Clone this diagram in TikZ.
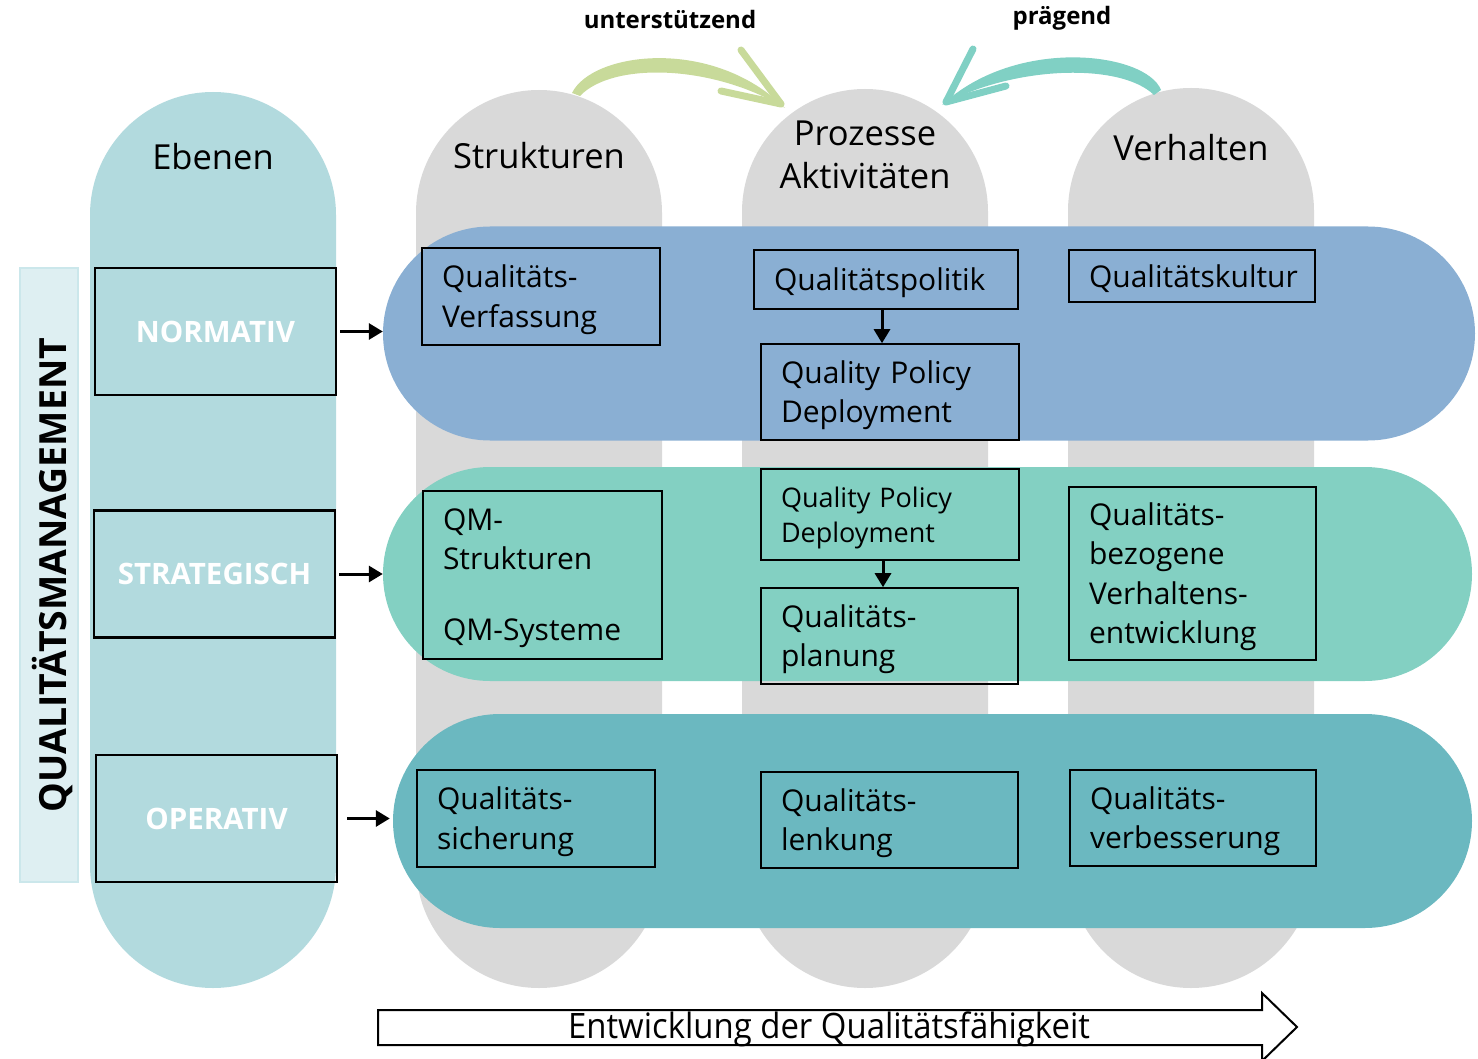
\documentclass[tikz,border=0pt]{standalone}
\usepackage{fontspec}
\setmainfont{Open Sans}
\usepackage{xcolor}
\usepackage{tikz}
\usetikzlibrary{arrows.meta}
\definecolor{ebenecol}{HTML}{B2DADE}
\definecolor{colgray}{HTML}{D9D9D9}
\definecolor{normband}{HTML}{8AAFD3}
\definecolor{stratband}{HTML}{83D0C2}
\definecolor{opband}{HTML}{6BB8C0}
\definecolor{barfill}{HTML}{DEEFF2}
\definecolor{barline}{HTML}{CBE7EB}
\definecolor{unterst}{HTML}{C8DA9A}
\definecolor{praeg}{HTML}{80D0C4}

\begin{document}
\begin{tikzpicture}[x=1pt,y=-1pt]
    \useasboundingbox (0,0) rectangle (1478,1059);

    \tikzstyle{col}=[rounded corners=123pt,minimum width=246pt,inner sep=0pt]
    \tikzstyle{band}=[rounded corners=107pt,minimum height=214pt,inner sep=0pt]
    \tikzstyle{head}=[font=\fontsize{34.5}{43}\selectfont,align=center]
    \tikzstyle{cell}=[draw=black,line width=1.6pt,align=left,inner xsep=20pt,inner ysep=0pt,
        execute at end node={\endgraf\vspace*{-6pt}},font=\fontsize{30}{39.5}\selectfont]
    \tikzstyle{lvl}=[draw=black,line width=2.5pt,minimum width=241pt,minimum height=127pt,text=white,font=\bfseries\fontsize{29.5}{34}\selectfont]
    \tikzstyle{kind}=[font=\bfseries\fontsize{24}{28}\selectfont]

    % columns
    \node[col,fill=ebenecol,minimum height=896pt] (ebenen) at (213,540) {};
    \node[col,fill=colgray,minimum height=898pt] (struk) at (539,539) {};
    \node[col,fill=colgray,minimum height=899pt] (proz) at (865,538.5) {};
    \node[col,fill=colgray,minimum height=900pt] (verh) at (1191,538) {};

    \node[head] (ebenenh) at (213,157) {Ebenen};
    \node[head] (strukh) at (539,156) {Strukturen};
    \node[head] (prozh) at (865,155) {Prozesse\\Aktivitäten};
    \node[head] (verhh) at (1191,148) {Verhalten};

    % bands
    \node[band,fill=normband,minimum width=1092pt] (nband) at (929,333.5) {};
    \node[band,fill=stratband,minimum width=1089pt] (sband) at (927.5,574) {};
    \node[band,fill=opband,minimum width=1079pt] (oband) at (932.5,821) {};

    % normativ
    \node[cell,text width=198pt,minimum height=97pt] (verf) at (541,296.5) {Qualitäts-\\Verfassung};
    \node[cell,text width=224pt,minimum height=59pt] (politik) at (886,279.5) {Qualitätspolitik};
    \node[cell,text width=218pt,minimum height=96pt] (qpdn) at (890,392) {Quality Policy\\Deployment};
    \node[cell,text width=206pt,minimum height=52pt] (kultur) at (1192,276) {Qualitätskultur};

    % strategisch
    \node[cell,text width=199pt,minimum height=168pt] (qmsys) at (542.5,575) {QM-\\Strukturen\\[31pt]QM-Systeme};
    \node[cell,text width=218pt,minimum height=91pt,font=\fontsize{27}{35}\selectfont] (qpds) at (890,514.5) {Quality Policy\\Deployment};
    \node[cell,text width=217pt,minimum height=96pt] (planung) at (889.5,636) {Qualitäts-\\planung};
    \node[cell,text width=207pt,minimum height=173pt] (verhent) at (1192.5,573.5) {Qualitäts-\\bezogene\\Verhaltens-\\entwicklung};

    % operativ
    \node[cell,text width=198pt,minimum height=97pt] (sicherung) at (536,818.5) {Qualitäts-\\sicherung};
    \node[cell,text width=217pt,minimum height=96pt] (lenkung) at (889.5,820) {Qualitäts-\\lenkung};
    \node[cell,text width=206pt,minimum height=96pt] (verbess) at (1193,818) {Qualitäts-\\verbesserung};

    % levels
    \node[draw=barline,fill=barfill,line width=2pt,minimum width=58pt,minimum height=614pt,inner sep=0pt] (qmbar) at (49,575) {};
    \node[rotate=90,font=\bfseries\fontsize{37.4}{40}\selectfont] (qmtext) at (53,575) {QUALITÄTSMANAGEMENT};

    \node[lvl] (normativ) at (215.5,331.5) {NORMATIV};
    \node[lvl] (strategisch) at (214.5,574) {STRATEGISCH};
    \node[lvl] (operativ) at (216.5,818.5) {OPERATIV};

    \tikzstyle{fwd}=[draw=black,line width=3pt,-{Triangle[length=14pt,width=16pt]}]

    \draw[fwd] ([xshift=3pt]normativ.east) -- (normativ.east -| nband.west);
    \draw[fwd] ([xshift=3pt]strategisch.east) -- (strategisch.east -| sband.west);
    \draw[fwd] ([xshift=9pt]operativ.east) -- ([xshift=-3pt]operativ.east -| oband.west);

    \draw[fwd] ([xshift=-4pt]politik.south) -- ([xshift=-4pt]politik.south |- qpdn.north);
    \draw[fwd] ([xshift=-7pt]qpds.south) -- ([xshift=-7pt]qpds.south |- planung.north);

    % curved arrows on top
    \node[kind] (unt) at (670,20) {unterstützend};
    \node[kind] (praegt) at (1062,18) {prägend};

    \fill[unterst] (572,93) .. controls (592,52) and (712,36) .. (785,108)
        .. controls (712,64) and (612,62) .. (580,96) -- cycle;
    \draw[unterst,line width=7pt,line cap=round,line join=round] (741,50) -- (781,104) -- (721,91);

    \fill[praeg] (1161,90) .. controls (1146,52) and (1016,36) .. (942,105)
        .. controls (1012,66) and (1120,62) .. (1154,95) -- cycle;
    \draw[praeg,line width=7pt,line cap=round,line join=round] (973,49) -- (946,102) -- (1006,86);

    % bottom block arrow
    \draw[line width=2pt,line join=miter] (378,1010) -- (1262,1010) -- (1262,993) -- (1297,1027)
        -- (1262,1061) -- (1262,1045) -- (378,1045) -- cycle;
    \node[font=\fontsize{35}{38}\selectfont] (entw) at (829,1029) {\scalebox{0.94}[1]{Entwicklung der Qualitätsfähigkeit}};
\end{tikzpicture}
\end{document}
